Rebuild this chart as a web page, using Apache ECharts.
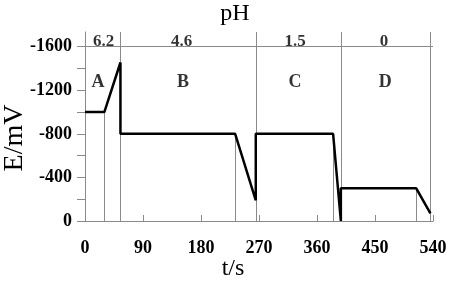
<!DOCTYPE html>
<html>
<head>
<meta charset="utf-8">
<script src="https://cdn.jsdelivr.net/npm/echarts@6/dist/echarts.min.js"></script>
<style>
  html, body { margin: 0; padding: 0; background: #fff; }
  #chart { width: 450px; height: 284px; }
</style>
</head>
<body>
<div id="chart"></div>
<script>
// potential trace, t in s and E in mV
const times = [0, 30, 55, 55, 233, 265, 265, 385, 397, 397, 514, 536]
const potentials = [-1000, -1000, -1455, -800, -800, -190, -800, -800, 0, -300, -300, -70]
// boundaries between the pH stages (full height)
const stageEdges = [55, 265, 397, 536]
// thin drop lines from the trace down to the axis
const dropTimes = [30, 233, 385, 514]
const dropValues = [-1000, -800, -800, -300]
// pH values over each stage, and the stage letters
const phLabels = ['6.2', '4.6', '1.5', '0']
const phTimes = [29, 150, 326, 464]
const stageLabels = ['A', 'B', 'C', 'D']
const stageTimes = [20, 152, 326, 466]
// axis ticks
const yTicks = [-1600, -1400, -1200, -1000, -800, -600, -400, -200, 0]
const yLabels = [-1600, -1200, -800, -400, 0]

const serif = 'Liberation Serif, Times New Roman, serif'
const gray = '#8a8a8a'

const chart = echarts.init(document.getElementById('chart'))

const option = {
  animation: false,
  grid: {
    left: 85,
    right: 17,
    top: 32,
    bottom: 63
  },
  xAxis: {
    type: 'value',
    min: 0,
    max: 540,
    interval: 90,
    splitLine: {show: false},
    axisLine: {lineStyle: {color: gray, width: 1}},
    axisTick: {inside: true, length: 6, lineStyle: {color: gray}},
    axisLabel: {
      margin: 18,
      color: '#000',
      fontFamily: serif,
      fontWeight: 'bold',
      fontSize: 18
    }
  },
  yAxis: {
    type: 'value',
    inverse: true,
    min: -1735,
    max: 0,
    splitLine: {show: false},
    axisLine: {show: true, lineStyle: {color: gray, width: 1}},
    axisTick: {show: true, length: 8, customValues: yTicks, lineStyle: {color: gray}},
    axisLabel: {
      customValues: yLabels,
      formatter: v => String(v),
      margin: 13,
      color: '#000',
      fontFamily: serif,
      fontWeight: 'bold',
      fontSize: 18
    }
  },
  graphic: [
    {type: 'text', x: 235, y: 14, style: {text: 'pH', font: '24px ' + serif, fill: '#000', textAlign: 'center', textVerticalAlign: 'middle'}},
    {type: 'text', x: 233, y: 269, style: {text: 't/s', font: '24px ' + serif, fill: '#000', textAlign: 'center', textVerticalAlign: 'middle'}},
    {type: 'text', x: 15, y: 138, rotation: Math.PI / 2, style: {text: 'E/mV', font: '28px ' + serif, fill: '#000', textAlign: 'center', textVerticalAlign: 'middle'}}
  ],
  series: [
    {
      type: 'line',
      data: times.map((t, i) => [t, potentials[i]]),
      showSymbol: false,
      symbol: 'none',
      z: 5,
      lineStyle: {color: '#000', width: 2.5},
      markLine: {
        silent: true,
        symbol: 'none',
        label: {show: false},
        lineStyle: {color: gray, width: 1, type: 'solid'},
        data: [{yAxis: -1600}]
          .concat(stageEdges.map(t => ({xAxis: t})))
          .concat(dropTimes.map((t, i) => [{coord: [t, dropValues[i]]}, {coord: [t, 0]}]))
      }
    },
    {
      type: 'scatter',
      symbolSize: 1,
      itemStyle: {color: 'rgba(0,0,0,0)'},
      data: phLabels.map((s, i) => ({name: s, value: [phTimes[i], -1650]})),
      label: {
        show: true,
        position: 'inside',
        formatter: '{b}',
        color: '#000',
        fontFamily: serif,
        fontWeight: 'bold',
        fontSize: 17
      }
    },
    {
      type: 'scatter',
      symbolSize: 1,
      itemStyle: {color: 'rgba(0,0,0,0)'},
      data: stageLabels.map((s, i) => ({name: s, value: [stageTimes[i], -1274]})),
      label: {
        show: true,
        position: 'inside',
        formatter: '{b}',
        color: '#000',
        fontFamily: serif,
        fontWeight: 'bold',
        fontSize: 18
      }
    }
  ]
}

chart.setOption(option)
</script>
</body>
</html>
